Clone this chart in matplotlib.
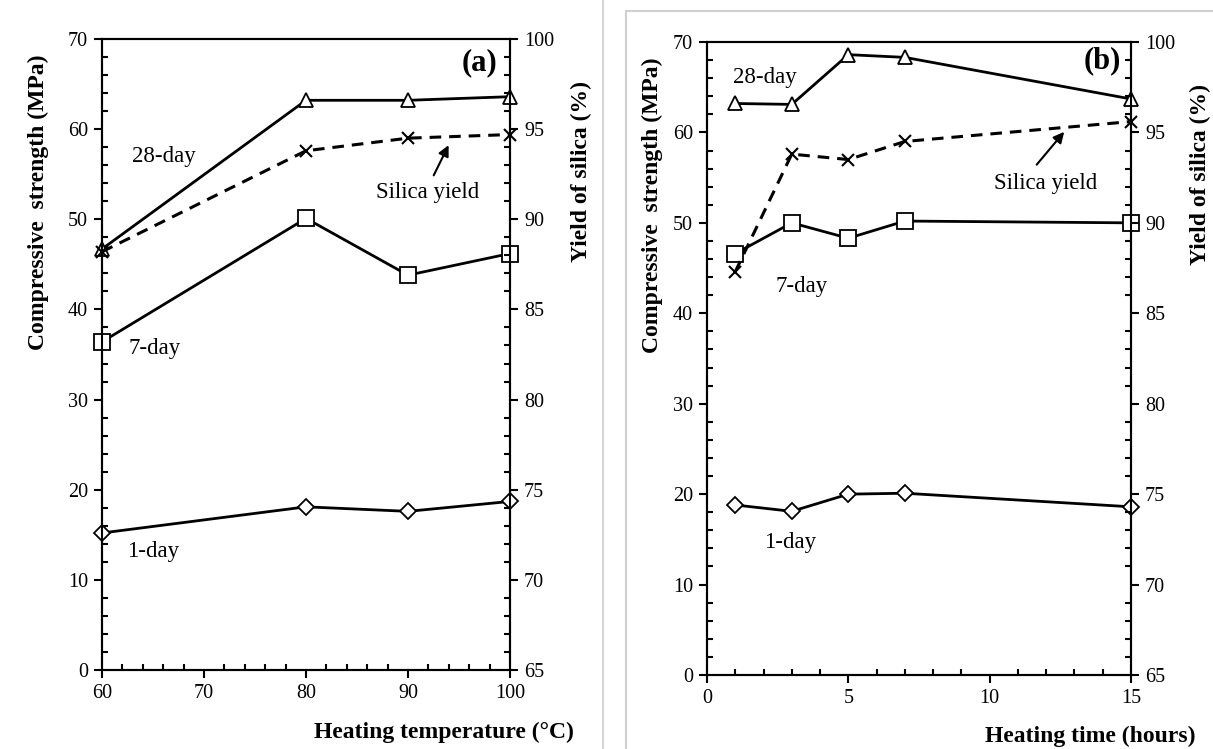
import matplotlib.pyplot as plt
from matplotlib.ticker import MultipleLocator
from matplotlib.patches import Rectangle
from matplotlib.lines import Line2D

plt.rcParams['font.family'] = ['Liberation Serif', 'DejaVu Serif']

# (a) effect of heating temperature
temp_c = [60, 80, 90, 100]
a_day1 = [15.2, 18.1, 17.6, 18.7]
a_day7 = [36.4, 50.1, 43.8, 46.2]
a_day28 = [46.7, 63.2, 63.2, 63.6]
a_yield = [88.2, 93.8, 94.5, 94.7]

# (b) effect of heating time
time_h = [1, 3, 5, 7, 15]
b_day1 = [18.8, 18.1, 20.0, 20.1, 18.6]
b_day7 = [46.6, 50.0, 48.3, 50.2, 50.0]
b_day28 = [63.2, 63.1, 68.6, 68.3, 63.7]
b_yield = [87.3, 93.8, 93.5, 94.5, 95.6]

fig = plt.figure(figsize=(12.13, 7.49), dpi=100)

# light frame lines around the right panel
fig.add_artist(Line2D([603 / 1213] * 2, [0, 1], transform=fig.transFigure,
                      color='#d6d6d6', lw=1.5))
fig.add_artist(Rectangle((626 / 1213, -0.05), 0.6, 1.05 - 11 / 749,
                         transform=fig.transFigure, fill=False,
                         edgecolor='#d0d0d0', lw=1.5))

TICK = 14.5
TXT = 16.5
LAB = 17


def style(ax, ax2, xmaj, xmin):
    ax.set_ylim(0, 70)
    ax2.set_ylim(65, 100)
    ax.yaxis.set_major_locator(MultipleLocator(10))
    ax.yaxis.set_minor_locator(MultipleLocator(2))
    ax2.yaxis.set_major_locator(MultipleLocator(5))
    ax2.yaxis.set_minor_locator(MultipleLocator(1))
    ax.xaxis.set_major_locator(MultipleLocator(xmaj))
    ax.xaxis.set_minor_locator(MultipleLocator(xmin))
    for a in (ax, ax2):
        for s in a.spines.values():
            s.set_linewidth(1.5)
        a.tick_params(which='major', direction='out', length=6, width=1.5,
                      labelsize=TICK, pad=4)
        a.tick_params(which='minor', direction='in', length=4, width=1.5)
    ax.tick_params(axis='x', which='both', top=False)


def draw(ax, ax2, x, d1, d7, d28, yld):
    kw = dict(color='k', lw=2, mfc='white', mec='k', mew=1.3, zorder=3,
              clip_on=False)
    ax.plot(x, d28, marker='^', ms=10, **kw)
    ax.plot(x, d7, marker='s', ms=11, **kw)
    ax.plot(x, d1, marker='D', ms=8, **kw)
    ax2.plot(x, yld, color='k', lw=2.2, ls=(0, (3.8, 2.6)), marker='x', ms=9,
             mew=1.5, zorder=4, clip_on=False)


def labels(ax, ax2, xlab, left_x, right_x, xlab_x, xlab_y):
    ax.set_ylabel('Compressive  strength (MPa)', fontsize=LAB,
                  fontweight='bold')
    ax.yaxis.set_label_coords(left_x, 0.742)
    ax2.set_ylabel('Yield of silica (%)', fontsize=LAB, fontweight='bold')
    ax2.yaxis.set_label_coords(right_x, 0.79)
    ax.set_xlabel(xlab, fontsize=LAB, fontweight='bold')
    ax.xaxis.label.set_ha('right')
    ax.xaxis.set_label_coords(xlab_x, xlab_y)


# ---- panel (a)
ax = fig.add_axes([102 / 1213, 1 - 670 / 749, 408 / 1213, 631 / 749])
ax2 = ax.twinx()
draw(ax, ax2, temp_c, a_day1, a_day7, a_day28, a_yield)
ax.set_xlim(60, 100)
style(ax, ax2, 10, 2)
ax.text(66.1, 57.0, '28-day', fontsize=TXT, ha='center', va='center')
ax.text(65.2, 35.7, '7-day', fontsize=TXT, ha='center', va='center')
ax.text(65.0, 13.1, '1-day', fontsize=TXT, ha='center', va='center')
ax.text(91.9, 53.0, 'Silica yield', fontsize=TXT, ha='center', va='center')
ax.annotate('', xy=(94.1, 58.5), xytext=(92.4, 54.6),
            arrowprops=dict(arrowstyle='-|>', color='k', lw=1.5,
                            mutation_scale=16))
ax.text(97.0, 67.4, '(a)', fontsize=22, fontweight='bold',
        ha='center', va='center')
labels(ax, ax2, 'Heating temperature (°C)', -0.130, 1.150, 1.157, -0.082)

# ---- panel (b)
bx = fig.add_axes([707 / 1213, 1 - 675 / 749, 424 / 1213, 633 / 749])
bx2 = bx.twinx()
draw(bx, bx2, time_h, b_day1, b_day7, b_day28, b_yield)
bx.set_xlim(0, 15)
style(bx, bx2, 5, 1)
bx.text(2.03, 66.1, '28-day', fontsize=TXT, ha='center', va='center')
bx.text(3.35, 43.0, '7-day', fontsize=TXT, ha='center', va='center')
bx.text(2.95, 14.7, '1-day', fontsize=TXT, ha='center', va='center')
bx.text(11.98, 54.4, 'Silica yield', fontsize=TXT, ha='center', va='center')
bx.annotate('', xy=(12.7, 60.3), xytext=(11.6, 56.2),
            arrowprops=dict(arrowstyle='-|>', color='k', lw=1.5,
                            mutation_scale=16))
bx.text(13.97, 67.9, '(b)', fontsize=22, fontweight='bold',
        ha='center', va='center')
labels(bx, bx2, 'Heating time (hours)', -0.104, 1.140, 1.151, -0.081)

fig.savefig('out.png', dpi=100)
